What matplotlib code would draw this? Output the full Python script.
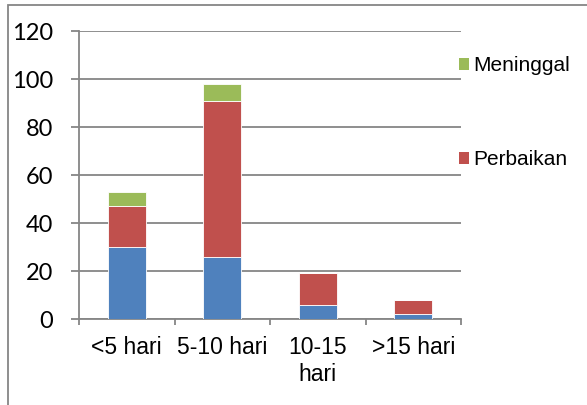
import numpy as np
import matplotlib
matplotlib.use('Agg')
import matplotlib.pyplot as plt
from matplotlib.patches import Rectangle, Patch

categories = ['<5 hari', '5-10 hari', '10-15\nhari', '>15 hari']
sembuh = [30, 26, 6, 2]
perbaikan = [17, 65, 13, 6]
meninggal = [6, 7, 0, 0]

blue = '#4F81BD'
red = '#C0504D'
green = '#9BBB59'
grid_gray = '#868686'

W, H = 587, 405
PT = 0.72  # points per pixel at dpi 100
fig = plt.figure(figsize=(W / 100, H / 100), dpi=100)
ax = fig.add_axes([79 / W, 1 - 319 / H, (461 - 79) / W, (319 - 31) / H])

# outer chart border (only top and left edges fall inside the image)
fig.patches.append(Rectangle((8 / W, -0.1), 1.2, 1 - 5 / H + 0.1, transform=fig.transFigure,
                             fill=False, edgecolor=grid_gray, linewidth=1.3, zorder=0))

x = np.arange(len(categories))
bottom2 = np.array(sembuh) + np.array(perbaikan)
ax.bar(x, sembuh, width=0.4, color=blue, edgecolor='white', linewidth=0.6, zorder=3)
ax.bar(x, perbaikan, width=0.4, bottom=sembuh, color=red, edgecolor='white', linewidth=0.6, zorder=3)
ax.bar(x, meninggal, width=0.4, bottom=bottom2, color=green, edgecolor='white', linewidth=0.6, zorder=3)

ax.set_xlim(-0.5, 3.5)
ax.set_ylim(0, 120)
ax.set_yticks(range(0, 121, 20))
ax.yaxis.grid(True, color=grid_gray, linewidth=1.3, zorder=0)
ax.set_axisbelow(True)

for s in ['top', 'right']:
    ax.spines[s].set_visible(False)
for s in ['left', 'bottom']:
    ax.spines[s].set_color(grid_gray)
    ax.spines[s].set_linewidth(1.3)

ax.tick_params(axis='y', length=8 * PT, width=1.3, color=grid_gray, pad=18 * PT)
for lab in ax.get_yticklabels():
    lab.set_fontfamily('Lato')
    lab.set_fontsize(17)

# category labels centred, tick marks on the boundaries
ax.set_xticks(x)
ax.set_xticklabels(categories, fontfamily='Liberation Sans', fontsize=16.5, linespacing=1.2)
ax.tick_params(axis='x', which='major', length=0, pad=17 * PT)
ax.set_xticks(np.arange(-0.5, 4, 1), minor=True)
ax.tick_params(axis='x', which='minor', length=6 * PT, width=1.3, color=grid_gray)

handles = [Patch(facecolor=green), Patch(facecolor=red)]
fig.legend(handles, ['Meninggal', 'Perbaikan'], loc='upper left',
           bbox_to_anchor=(459 / W, 1 - 56 / H), frameon=False,
           prop={'family': 'Liberation Sans', 'size': 15},
           handlelength=0.5, handleheight=0.5, handletextpad=0.2,
           labelspacing=3.6, borderpad=0, borderaxespad=0)

fig.savefig('out.png', dpi=100)
